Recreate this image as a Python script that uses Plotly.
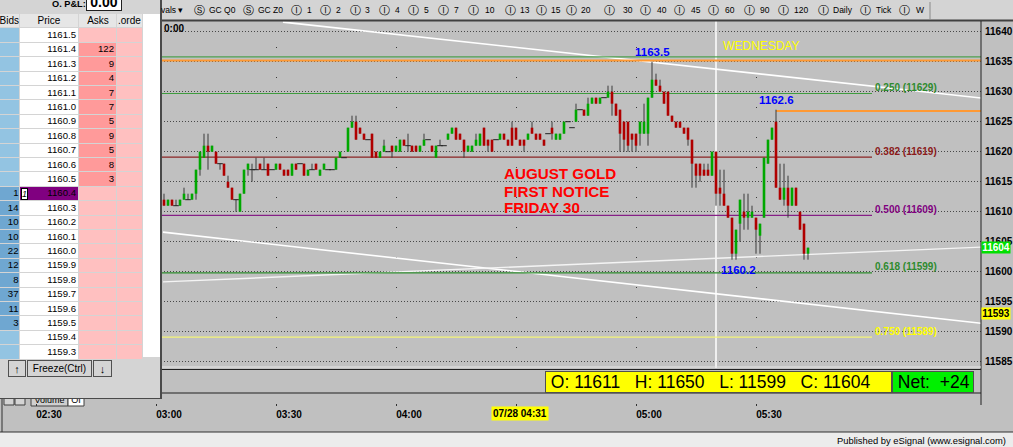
import plotly.graph_objects as go
from datetime import datetime, timedelta

W, H = 1013, 447
FONT = "Liberation Sans"
SYM_FONT = "DejaVu Sans"

# ------------------------------------------------------------------ data
first_bar = datetime(2010, 7, 28, 3, 2)   # first visible 1-minute bar

opens = [11612, 11611, 11612, 11611, 11611, 11612, 11612, 11612, 11613, 11617,
         11619, 11621, 11620, 11620, 11618, 11618, 11615, 11614, 11612, 11610,
         11613, 11617, 11617, 11617, 11618, 11617, 11618, 11617, 11617, 11618,
         11617, 11617, 11616, 11618, 11618, 11618, 11616, 11617, 11618, 11616,
         11617, 11617, 11617, 11617, 11619, 11619, 11620, 11624, 11625, 11624,
         11623, 11622, 11623, 11620, 11619, 11620, 11620, 11621, 11620, 11620,
         11622, 11621, 11621, 11621, 11620, 11621, 11622, 11621, 11619, 11621,
         11621, 11622, 11623, 11624, 11623, 11622, 11620, 11620, 11621, 11621,
         11624, 11622, 11622, 11622, 11622, 11623, 11622, 11624, 11624, 11622,
         11622, 11622, 11624, 11623, 11623, 11622, 11623, 11624, 11622, 11622,
         11623, 11625, 11624, 11625, 11627, 11627, 11626, 11628, 11629, 11628,
         11629, 11629, 11630, 11628, 11627, 11625, 11625, 11623, 11623, 11623,
         11623, 11623, 11629, 11632, 11631, 11630, 11630, 11626, 11625, 11625,
         11624, 11624, 11622, 11618, 11618, 11617, 11617, 11616, 11620, 11614,
         11613, 11611, 11609, 11603, 11608, 11610, 11609, 11609, 11609, 11606,
         11609, 11618, 11622, 11625, 11614, 11612, 11614, 11611, 11614, 11610,
         11608, 11603]
highs = [11613, 11612, 11612, 11612, 11612, 11614, 11613, 11613, 11617, 11620,
         11623, 11623, 11621, 11620, 11618, 11618, 11616, 11614, 11612, 11613,
         11617, 11618, 11618, 11619, 11618, 11619, 11618, 11617, 11618, 11618,
         11617, 11617, 11618, 11618, 11618, 11618, 11617, 11618, 11618, 11617,
         11618, 11617, 11617, 11619, 11620, 11619, 11624, 11626, 11626, 11624,
         11623, 11622, 11623, 11620, 11620, 11622, 11620, 11621, 11621, 11622,
         11622, 11623, 11621, 11621, 11621, 11623, 11622, 11621, 11621, 11622,
         11621, 11623, 11624, 11624, 11623, 11622, 11621, 11621, 11623, 11623,
         11624, 11622, 11622, 11622, 11623, 11623, 11622, 11625, 11624, 11622,
         11622, 11623, 11625, 11623, 11623, 11622, 11623, 11625, 11623, 11623,
         11625, 11625, 11624, 11628, 11627, 11627, 11629, 11629, 11629, 11629,
         11629, 11631, 11631, 11628, 11627, 11625, 11625, 11623, 11623, 11625,
         11628, 11629, 11635, 11633, 11632, 11630, 11630, 11626, 11625, 11625,
         11624, 11624, 11622, 11618, 11618, 11618, 11618, 11620, 11620, 11617,
         11617, 11611, 11609, 11607, 11612, 11613, 11613, 11611, 11609, 11608,
         11619, 11622, 11624, 11627, 11618, 11618, 11616, 11614, 11614, 11610,
         11608, 11604]
lows = [11611, 11611, 11611, 11611, 11611, 11612, 11612, 11612, 11612, 11616,
        11619, 11617, 11620, 11618, 11617, 11616, 11614, 11612, 11610, 11610,
        11613, 11616, 11615, 11617, 11617, 11617, 11616, 11617, 11617, 11617,
        11616, 11616, 11616, 11617, 11618, 11616, 11616, 11617, 11617, 11616,
        11617, 11617, 11617, 11617, 11619, 11619, 11620, 11624, 11622, 11623,
        11622, 11622, 11619, 11619, 11619, 11620, 11620, 11619, 11620, 11620,
        11621, 11620, 11620, 11620, 11620, 11621, 11622, 11620, 11619, 11621,
        11621, 11622, 11623, 11622, 11622, 11619, 11620, 11620, 11621, 11621,
        11621, 11620, 11620, 11622, 11622, 11622, 11621, 11621, 11622, 11621,
        11620, 11622, 11623, 11622, 11622, 11621, 11623, 11622, 11622, 11622,
        11623, 11625, 11624, 11625, 11627, 11626, 11626, 11628, 11628, 11628,
        11629, 11629, 11626, 11626, 11620, 11620, 11620, 11620, 11620, 11621,
        11623, 11621, 11629, 11631, 11630, 11628, 11626, 11625, 11624, 11624,
        11623, 11621, 11614, 11614, 11615, 11616, 11616, 11616, 11611, 11611,
        11611, 11609, 11602, 11602, 11605, 11607, 11607, 11609, 11603, 11603,
        11609, 11618, 11622, 11614, 11612, 11611, 11609, 11611, 11611, 11607,
        11602, 11602]
closes = [11611, 11612, 11611, 11611, 11612, 11613, 11612, 11613, 11617, 11620,
          11621, 11620, 11621, 11618, 11618, 11616, 11614, 11612, 11612, 11613,
          11617, 11618, 11617, 11617, 11617, 11617, 11616, 11617, 11618, 11617,
          11616, 11616, 11618, 11617, 11618, 11616, 11617, 11617, 11617, 11617,
          11618, 11617, 11617, 11619, 11620, 11619, 11624, 11625, 11622, 11623,
          11622, 11622, 11619, 11619, 11620, 11621, 11620, 11620, 11621, 11622,
          11621, 11621, 11620, 11620, 11621, 11622, 11622, 11620, 11621, 11621,
          11621, 11623, 11624, 11622, 11622, 11620, 11621, 11621, 11622, 11623,
          11621, 11621, 11620, 11622, 11623, 11622, 11621, 11621, 11622, 11621,
          11621, 11623, 11623, 11622, 11622, 11621, 11623, 11623, 11623, 11623,
          11625, 11625, 11624, 11627, 11627, 11626, 11628, 11629, 11628, 11629,
          11629, 11630, 11628, 11626, 11623, 11622, 11621, 11622, 11621, 11625,
          11625, 11629, 11632, 11631, 11630, 11628, 11626, 11625, 11624, 11624,
          11623, 11622, 11618, 11616, 11616, 11616, 11616, 11620, 11613, 11613,
          11611, 11609, 11603, 11607, 11612, 11609, 11610, 11610, 11607, 11608,
          11619, 11622, 11624, 11614, 11612, 11614, 11611, 11614, 11611, 11607,
          11603, 11604]

fib_ratios = ["0.250", "0.382", "0.500", "0.618", "0.750"]
fib_levels = [11629.7, 11619.1, 11609.4, 11599.8, 11589.1]
fib_values = [11629, 11619, 11609, 11599, 11589]
fib_line_colors = ["#3F9C3F", "#8B2424", "#862086", "#2E8B2E", "#F4F478"]
fib_text_colors = ["#2E8B2E", "#8B1A1A", "#800080", "#2E8B2E", "#FFFF00"]
fib_end = datetime(2010, 7, 28, 5, 59, 0)

top_green_level = 11635.8
top_orange_level = 11635.2
high_orange_level = 11626.8
high_orange_bar = 153

trend_upper_t = [datetime(2010, 7, 28, 3, 31, 45), datetime(2010, 7, 28, 6, 26, 15)]
trend_upper_p = [11641.6, 11628.95]
trend_desc_t = [datetime(2010, 7, 28, 3, 1, 45), datetime(2010, 7, 28, 6, 26, 15)]
trend_desc_p = [11606.6, 11591.4]
trend_asc_t = [datetime(2010, 7, 28, 3, 1, 45), datetime(2010, 7, 28, 6, 26, 15)]
trend_asc_p = [11598.3, 11604.1]

cursor_time = datetime(2010, 7, 28, 5, 20)
cursor_label = "07/28 04:31"

peak_bars = [122, 153]
peak_texts = ["1163.5", "1162.6"]
trough_bars = [143]
trough_texts = ["1160.2"]

price_ticks = [11585, 11590, 11595, 11600, 11605, 11610, 11615, 11620, 11625, 11630, 11635, 11640]
time_ticks = [datetime(2010, 7, 28, 2, 30), datetime(2010, 7, 28, 3, 0), datetime(2010, 7, 28, 3, 30),
              datetime(2010, 7, 28, 4, 0), datetime(2010, 7, 28, 4, 30), datetime(2010, 7, 28, 5, 0),
              datetime(2010, 7, 28, 5, 30)]
time_tick_labels = ["02:30", "03:00", "03:30", "04:00", "", "05:00", "05:30"]

day_open, day_high, day_low, day_close, day_net = 11611, 11650, 11599, 11604, "+24"
last_price = 11604
alert_price = 11593

# depth-of-market ladder
dom_headers = ["Bids", "Price", "Asks", ".orde"]
dom_prices = ["1161.5", "1161.4", "1161.3", "1161.2", "1161.1", "1161.0", "1160.9", "1160.8",
              "1160.7", "1160.6", "1160.5", "1160.4", "1160.3", "1160.2", "1160.1", "1160.0",
              "1159.9", "1159.8", "1159.7", "1159.6", "1159.5", "1159.4", "1159.3"]
dom_bids = ["", "", "", "", "", "", "", "", "", "", "", "1", "14", "10", "10", "22",
            "12", "8", "37", "11", "3", "", ""]
dom_asks = ["", "122", "9", "4", "7", "7", "5", "9", "5", "8", "3", "", "", "", "", "",
            "", "", "", "", "", "", ""]
dom_current = "1160.4"

toolbar_symbols = ["Ⓢ", "Ⓢ", "Ⓘ", "Ⓘ", "Ⓘ", "Ⓘ", "Ⓘ", "Ⓘ", "Ⓘ", "Ⓘ", "Ⓘ", "Ⓘ",
                   "Ⓘ", "Ⓘ", "Ⓘ", "Ⓘ", "Ⓘ", "Ⓘ", "Ⓘ", "Ⓘ", "Ⓘ"]
toolbar_labels = ["GC Q0", "GC Z0", "1", "2", "3", "4", "5", "7", "10", "13", "15", "20",
                  "30", "40", "45", "60", "90", "120", "Daily", "Tick", "W"]

# ------------------------------------------------------------------ layout constants
X_START = datetime(2010, 7, 28, 2, 21, 30)
X_END = datetime(2010, 7, 28, 6, 26, 15)
Y_MIN, Y_MAX = 11583.95, 11641.78
PANE_TOP, PANE_BOT, PLOT_R = 21, 368, 981
AXIS_Y = 403
BODY_W = 2.6
UP_C, DN_C, WICK_C = "#00A800", "#B00000", "#3A3A3A"

toolbar_sym_x = [193, 242, 290, 319, 349, 378, 407, 437, 467, 504, 535, 565,
                 603, 639, 673, 707, 743, 777, 817, 859, 898]
toolbar_lab_x = [207, 256, 305, 334, 363, 393, 422, 452, 483, 518, 549, 579,
                 621, 655, 689, 723, 758, 792, 831, 874, 914]

DOM_COL_EDGES = [0, 20, 78.5, 116.5, 143]
DOM_HEAD_TOP, DOM_ROW0, DOM_ROW_H = 14, 28.4, 14.4
PANEL_R, PANEL_B = 162, 399

times = [first_bar + timedelta(minutes=i) for i in range(len(opens))]

fig = go.Figure()

def line_trace(x, y, color, width, dash=None):
    fig.add_trace(go.Scatter(x=x, y=y, mode="lines", line=dict(color=color, width=width, dash=dash),
                             hoverinfo="skip", showlegend=False))

# cursor, trend lines, horizontal levels
line_trace([cursor_time, cursor_time], [Y_MIN, Y_MAX], "#FFFFFF", 1.5)
line_trace(trend_upper_t, trend_upper_p, "#FFFFFF", 1.6)
line_trace(trend_desc_t, trend_desc_p, "#FFFFFF", 1.6)
line_trace(trend_asc_t, trend_asc_p, "#F4F4F4", 1.4)
line_trace([X_START, X_END], [top_green_level] * 2, "#4FA04F", 1.2)
line_trace([X_START, X_END], [top_orange_level] * 2, "#FF9933", 2)
line_trace([times[high_orange_bar], X_END], [high_orange_level] * 2, "#FF9933", 2)
for lvl, col in zip(fib_levels, fib_line_colors):
    line_trace([X_START, fib_end], [lvl, lvl], col, 1.2)

# candles: wicks, bodies, dojis
wx, wy = [], []
for t, lo, hi in zip(times, lows, highs):
    wx += [t, t, None]
    wy += [lo, hi, None]
line_trace(wx, wy, WICK_C, 1)
for up in (True, False):
    bx, by = [], []
    for t, o, c in zip(times, opens, closes):
        if (c > o) if up else (c < o):
            bx += [t, t, None]
            by += [o, c, None]
    line_trace(bx, by, UP_C if up else DN_C, BODY_W)
dx = [t for t, o, c in zip(times, opens, closes) if o == c]
dy = [c for o, c in zip(opens, closes) if o == c]
fig.add_trace(go.Scatter(x=dx, y=dy, mode="markers", hoverinfo="skip", showlegend=False,
                         marker=dict(symbol="line-ew", size=4, line=dict(width=1, color="#202020"))))

# ------------------------------------------------------------------ DOM ladder (own axes)
PAL = ["#D4D4D4", "#FFFFFF", "#4A4A4A", "#E6E6E6", "#93C4E2", "#6FA7D1", "#FFC0C0", "#FF9A9A", "#800080"]
def stepscale(colors):
    n = len(colors)
    cs = []
    for k, c in enumerate(colors):
        cs += [[k / n, c], [(k + 1) / n, c]]
    return cs
CS = stepscale(PAL)

bg_z = [[0, 0, 2], [0, 1, 2], [0, 0, 2], [2, 2, 2]]
fig.add_trace(go.Heatmap(x=[0, 143, 160, PANEL_R], y=[0, DOM_HEAD_TOP, 357, PANEL_B - 1.5, PANEL_B + 1],
                         z=[[v + 0.5 for v in r] for r in bg_z], zmin=0, zmax=len(PAL), colorscale=CS,
                         showscale=False, hoverinfo="skip", xaxis="x2", yaxis="y2"))
grid_z = [[3, 3, 3, 3]]
for p, b, a in zip(dom_prices, dom_bids, dom_asks):
    grid_z.append([5 if b else 4, 8 if p == dom_current else 1, 7 if a else 6, 6])
row_edges = [DOM_HEAD_TOP] + [DOM_ROW0 + DOM_ROW_H * r for r in range(len(dom_prices) + 1)]
fig.add_trace(go.Heatmap(x=DOM_COL_EDGES, y=row_edges, z=[[v + 0.5 for v in r] for r in grid_z],
                         zmin=0, zmax=len(PAL), colorscale=CS, showscale=False, hoverinfo="skip",
                         xgap=1, ygap=1, xaxis="x2", yaxis="y2"))
row_c = [DOM_ROW0 + DOM_ROW_H * (r + 0.5) for r in range(len(dom_prices))]
dom_font = dict(family=FONT, size=9.6, color="#000000")
for xs, texts in ((18.5, dom_bids), (76, dom_prices), (114, dom_asks)):
    fig.add_trace(go.Scatter(x=[xs] * len(texts), y=row_c, text=texts, mode="text",
                             textposition="middle left", textfont=dom_font, hoverinfo="skip",
                             showlegend=False, xaxis="x2", yaxis="y2"))
head_c = (DOM_HEAD_TOP + DOM_ROW0) / 2
fig.add_trace(go.Scatter(x=[19, 49, 98, 118], y=[head_c] * 4, text=dom_headers, mode="text",
                         textposition=["middle left", "middle center", "middle center", "middle right"],
                         textfont=dict(family=FONT, size=10, color="#000000"), hoverinfo="skip",
                         showlegend=False, xaxis="x2", yaxis="y2"))

# ------------------------------------------------------------------ shapes
shapes = []
def rect(x0, y0, x1, y1, fill, line=None, lw=0, layer="below", label=None):
    d = dict(type="rect", xref="paper", yref="paper", x0=x0 / W, x1=x1 / W, y0=1 - y1 / H, y1=1 - y0 / H,
             fillcolor=fill, line=dict(width=lw, color=line or fill), layer=layer)
    if label:
        d["label"] = dict(text=label, font=dict(family=FONT, size=9, color="#000"), textposition="middle center")
    shapes.append(d)
def seg(x0, y0, x1, y1, color, width=1):
    shapes.append(dict(type="line", xref="paper", yref="paper", x0=x0 / W, x1=x1 / W, y0=1 - y0 / H,
                       y1=1 - y1 / H, line=dict(color=color, width=width), layer="above"))

rect(0, 0, W, 20, "#D4D4D4")
rect(0, 432, W, H, "#ECECEC")
rect(4, 393, 14, 405, "#D4D4D4", "#404040", 1)
rect(15, 393, 25, 405, "#D4D4D4", "#404040", 1)
rect(31, 392, 68, 406, "#CFCFCF", "#404040", 1, label="Volume")
rect(68, 392, 84, 406, "#FFFFFF", "#404040", 1, label="OI")
seg(PANEL_R, 20.5, W, 20.5, "#404040", 2)
seg(930, 2, 930, 19, "#8A8A8A", 1)
seg(PLOT_R, 21, PLOT_R, 405, "#202020", 1)
seg(PANEL_R, 367, PLOT_R, 367, "#E6E6E6", 1)
seg(PANEL_R, 369.5, PLOT_R, 369.5, "#202020", 1)
seg(PANEL_R, 393, PLOT_R, 393, "#202020", 1)
seg(0, 432, W, 432, "#303030", 1)
seg(2, PANEL_B, 2, 432, "#303030", 1)

# ------------------------------------------------------------------ annotations
ann = []
def note(text, x, y, xanchor="left", yanchor="middle", size=10, color="#000000", family=FONT,
         bold=False, **kw):
    ann.append(dict(text=text, x=x / W, y=1 - y / H, xref="paper", yref="paper", xanchor=xanchor,
                    yanchor=yanchor, showarrow=False,
                    font=dict(family=family, size=size, color=color, weight="bold" if bold else "normal"),
                    **kw))

# toolbar
note("vals \u25be", 159, 10, size=8.5)
for s, sx, lab, lx in zip(toolbar_symbols, toolbar_sym_x, toolbar_labels, toolbar_lab_x):
    note(s, sx - 1, 10, size=10.5, family=SYM_FONT)
    note(lab, lx, 10, size=8.5)
note("0:00", PANEL_R, 28.5, bold=True)

# chart texts
note("WEDNESDAY", 721, 46, size=12, color="#FFFF00")
for txt, yy in zip(["AUGUST GOLD", "FIRST NOTICE", "FRIDAY 30"], [173, 191, 208]):
    note(txt, 502, yy, size=15.2, color="#FF0000", bold=True)
for b, t in zip(peak_bars, peak_texts):
    ann.append(dict(text=t, x=times[b], y=highs[b], xref="x", yref="y", yshift=10, showarrow=False,
                    font=dict(family=FONT, size=11.5, color="#0000FF", weight="bold")))
for b, t in zip(trough_bars, trough_texts):
    ann.append(dict(text=t, x=times[b], y=lows[b], xref="x", yref="y", yshift=-10, xshift=2,
                    showarrow=False, font=dict(family=FONT, size=11.5, color="#0000FF", weight="bold")))
for r, lvl, v, c in zip(fib_ratios, fib_levels, fib_values, fib_text_colors):
    ann.append(dict(text=f"{r} ({v})", x=fib_end + timedelta(seconds=15), y=lvl, xref="x", yref="y",
                    xanchor="left", yanchor="middle", yshift=6, showarrow=False,
                    font=dict(family=FONT, size=10, color=c, weight="bold")))

# price markers on the axis
ann.append(dict(text=str(last_price), x=PLOT_R / W, y=last_price, xref="paper", yref="y", xanchor="left",
                showarrow=False, bgcolor="#00E000", borderpad=0, width=28, height=11,
                font=dict(family=FONT, size=10, color="#FFFFFF", weight="bold")))
ann.append(dict(text=str(alert_price), x=PLOT_R / W, y=alert_price, xref="paper", yref="y", xanchor="left",
                showarrow=False, bgcolor="#FFFF00", borderpad=0, width=28, height=11,
                font=dict(family=FONT, size=10, color="#000000", weight="bold")))

# OHLC summary box
sp = "\u00a0\u00a0\u00a0"
note(f"\u00a0O:\u00a0{day_open}{sp}H:\u00a0{day_high}{sp}L:\u00a0{day_low}{sp}C:\u00a0{day_close}",
     545, 381.5, size=17.5, bgcolor="#FFFF00", bordercolor="#505050", borderwidth=1, borderpad=0,
     width=345, height=20, align="left")
note(f"\u00a0Net:\u00a0\u00a0{day_net}", 892, 381.5, size=17.5, bgcolor="#00F000", bordercolor="#505050",
     borderwidth=1, borderpad=0, width=80, height=20, align="left")

# cursor time label and footer
note(cursor_label, 519.5, 413, xanchor="center", bold=True, bgcolor="#FFFF00", borderpad=1)
note("Published by eSignal (www.esignal.com)", 1008, 440, xanchor="right", size=9.4)

# DOM panel widgets
note("O. P&amp;L:", 50, 4, bold=True, size=9.2)
note("0.00", 86, 2, bold=True, size=14, bgcolor="#FFFFFF", bordercolor="#202020", borderwidth=1,
     borderpad=0, width=34, height=16, align="center")
ann.append(dict(text="<i>1</i>", x=24, y=row_c[dom_prices.index(dom_current)], xref="x2", yref="y2",
                showarrow=False, bgcolor="#FFFFFF", bordercolor="#000000", borderwidth=1, borderpad=0,
                width=5, height=10, font=dict(family=FONT, size=9, color="#000")))
note("\u2191", 8, 368.5, size=11, bgcolor="#D4D4D4", bordercolor="#505050", borderwidth=1, borderpad=0,
     width=16, height=15, align="center")
note("Freeze(Ctrl)", 27, 368.5, size=10, bgcolor="#D4D4D4", bordercolor="#505050", borderwidth=1,
     borderpad=0, width=63, height=15, align="center")
note("\u2193", 93, 368.5, size=11, bgcolor="#D4D4D4", bordercolor="#505050", borderwidth=1, borderpad=0,
     width=17, height=15, align="center")

# ------------------------------------------------------------------ layout
fig.update_layout(
    width=W, height=H, margin=dict(l=0, r=0, t=0, b=0, pad=0),
    paper_bgcolor="#C0C0C0", plot_bgcolor="#C0C0C0",
    font=dict(family=FONT, size=10, color="#000"),
    showlegend=False, hovermode=False,
    xaxis=dict(type="date", domain=[2 / W, PLOT_R / W], range=[X_START, X_END], anchor="free",
               position=1 - AXIS_Y / H, tickvals=time_ticks, ticktext=time_tick_labels,
               ticks="outside", ticklen=2, tickcolor="#303030", ticklabelshift=13,
               tickfont=dict(family=FONT, size=10, color="#000", weight="bold"),
               showgrid=True, gridcolor="#3A3A3A", griddash="0px,26px,1px,3px", gridwidth=1,
               zeroline=False, showline=False, fixedrange=True),
    yaxis=dict(domain=[1 - PANE_BOT / H, 1 - PANE_TOP / H], range=[Y_MIN, Y_MAX], side="right",
               anchor="x", tickvals=price_ticks, tickformat="d", ticks="outside", ticklen=1,
               tickcolor="#C0C0C0",
               tickfont=dict(family=FONT, size=10, color="#000", weight="bold"),
               showgrid=True, gridcolor="#484848", griddash="1px,2px", gridwidth=1,
               zeroline=False, showline=False, fixedrange=True),
    xaxis2=dict(domain=[0, PANEL_R / W], range=[0, PANEL_R], anchor="y2", visible=False, fixedrange=True),
    yaxis2=dict(domain=[1 - PANEL_B / H, 1], range=[PANEL_B, 0], anchor="x2", visible=False, fixedrange=True),
    shapes=shapes, annotations=ann,
)

fig.write_html("out.html", config={"displayModeBar": False},
               post_script="document.body.style.margin='0';document.body.style.overflow='hidden';")
